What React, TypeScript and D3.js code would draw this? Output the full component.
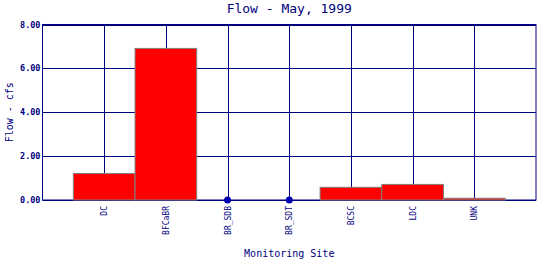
import React from "react";
import * as d3 from "d3";

const categories = ["DC", "BFCaBR", "BR_SDB", "BR_SDT", "BCSC", "LDC", "UNK"];
const flows = [1.21, 6.91, 0, 0, 0.58, 0.71, 0.08];
const yTicks = [0, 2, 4, 6, 8];
const title = "Flow - May, 1999";
const yTitle = "Flow - cfs";
const xTitle = "Monitoring Site";

const W = 540, H = 260;
const left = 42.5, right = 536, top = 24.5, bottom = 200;
const navy = "#000080";
const font = "'DejaVu Sans Mono', monospace";

export default function App() {
  const x = d3.scaleLinear().domain([0, categories.length + 1]).range([left, right]);
  const y = d3.scaleLinear().domain([0, 8]).range([bottom, top]);
  const step = x(1) - x(0);
  return (
    <svg width={W} height={H} style={{ position: "absolute", left: 0, top: 0, background: "#fff" }}>
      <text x={(left + right) / 2} y={13} textAnchor="middle" fontFamily={font} fontSize={13} fill={navy}>{title}</text>
      {yTicks.map((t) => (
        <g key={t}>
          <line x1={left} x2={right} y1={Math.round(y(t)) + 0.5} y2={Math.round(y(t)) + 0.5} stroke={navy} strokeWidth={1} />
          <text x={left - 2} y={y(t) + 3} textAnchor="end" fontFamily={font} fontSize={8.5} fontWeight="bold" fill={navy}>{t.toFixed(2)}</text>
        </g>
      ))}
      {categories.map((c, i) => (
        <line key={c} x1={Math.round(x(i + 1)) + 0.5} x2={Math.round(x(i + 1)) + 0.5} y1={top} y2={bottom} stroke={navy} strokeWidth={1} />
      ))}
      <rect x={left} y={top} width={right - left} height={bottom - top} fill="none" stroke={navy} strokeWidth={1} />
      {flows.map((v, i) =>
        v > 0 ? (
          <rect key={i} x={x(i + 1) - step / 2} y={y(v)} width={step} height={bottom - y(v)} fill="#ff0000" stroke="#808080" strokeWidth={1} />
        ) : (
          <circle key={i} cx={x(i + 1)} cy={bottom} r={3.5} fill="#0000b0" />
        )
      )}
      {categories.map((c, i) => (
        <text key={c} transform={`translate(${x(i + 1) + 3},${bottom + 6}) rotate(-90)`} textAnchor="end" fontFamily={font} fontSize={8} fill={navy}>{c}</text>
      ))}
      <text transform={`translate(12.5,${(top + bottom) / 2}) rotate(-90)`} textAnchor="middle" fontFamily={font} fontSize={10} fill={navy}>{yTitle}</text>
      <text x={(left + right) / 2} y={257} textAnchor="middle" fontFamily={font} fontSize={10} fill={navy}>{xTitle}</text>
    </svg>
  );
}
